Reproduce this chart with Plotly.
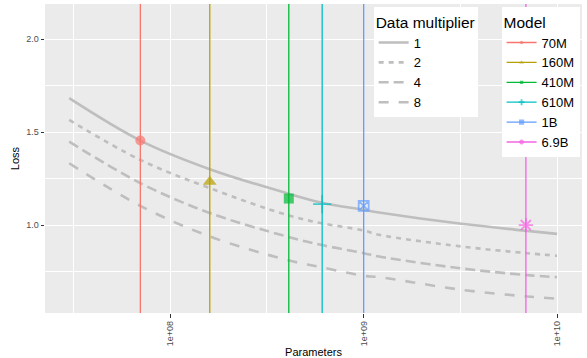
import plotly.graph_objects as go

# ---- data ----
params = [3e7, 7e7, 1.6e8, 4e8, 6e8, 1e9, 1.2e9, 3.2e9, 7e9, 1e10]
multipliers = ["1", "2", "4", "8"]
loss_1 = [1.683, 1.455, 1.301, 1.172, 1.122, 1.082, 1.068, 1.007, 0.969, 0.953]
loss_2 = [1.566, 1.351, 1.199, 1.055, 1.011, 0.971, 0.948, 0.885, 0.849, 0.835]
loss_4 = [1.449, 1.226, 1.065, 0.939, 0.894, 0.849, 0.831, 0.767, 0.731, 0.720]
loss_8 = [1.333, 1.104, 0.939, 0.813, 0.774, 0.727, 0.720, 0.652, 0.616, 0.604]

models = ["70M", "160M", "410M", "610M", "1B", "6.9B"]
model_params = [7.0e7, 1.6e8, 4.1e8, 6.1e8, 1.0e9, 6.9e9]
model_loss = [1.455, 1.234, 1.143, 1.113, 1.104, 1.000]

x_ticks = [1e8, 1e9, 1e10]
x_tick_labels = ["1e+08", "1e+09", "1e+10"]
y_ticks = [1.0, 1.5, 2.0]
y_tick_labels = ["1.0", "1.5", "2.0"]

# ---- styles ----
curve_dash = ["solid", "5px,5px", "10px,5px", "10px,10px"]
model_colors = ["#F8766D", "#B79F00", "#00BA38", "#00BFC4", "#619CFF", "#F564E3"]
model_symbols = ["circle", "triangle-up", "square", "cross-thin", "square-x-open", "asterisk-open"]
model_sizes = [10, 12, 10, 13, 10, 12]
Y_RANGE = [0.527, 2.19]
LOGX_RANGE = [7.352, 10.129]
FONT = "Liberation Sans, Arial, Helvetica, sans-serif"

fig = go.Figure()

for name, ys, dash in zip(multipliers, [loss_1, loss_2, loss_4, loss_8], curve_dash):
    fig.add_trace(go.Scatter(
        x=params, y=ys, mode="lines", name=name,
        line=dict(color="rgb(190,190,190)", width=2.6, dash=dash, shape="spline"),
        legend="legend",
    ))

for name, xp, yl, col, sym, sz in zip(models, model_params, model_loss,
                                      model_colors, model_symbols, model_sizes):
    open_like = sym in ("cross-thin", "square-x-open", "asterisk-open")
    fig.add_trace(go.Scatter(
        x=[xp, xp, xp], y=[Y_RANGE[0] - 1, yl, Y_RANGE[1] + 1],
        mode="lines+markers", name=name,
        line=dict(color=col, width=1.3),
        marker=dict(symbol=sym, size=[0, sz, 0], color=col,
                    line=dict(color=col, width=1.8 if open_like else 0)),
        legend="legend2",
    ))

fig.update_layout(
    width=587, height=358,
    margin=dict(l=45, r=5, t=4, b=45, autoexpand=False),
    paper_bgcolor="white", plot_bgcolor="#EBEBEB",
    font=dict(family=FONT, color="black"),
    xaxis=dict(
        type="log", range=LOGX_RANGE,
        tickvals=x_ticks, ticktext=x_tick_labels, tickangle=-90,
        tickfont=dict(size=9, color="#4D4D4D"),
        ticks="outside", ticklen=3.5, tickcolor="#333333", tickwidth=1,
        showgrid=True, gridcolor="white", gridwidth=1.2,
        minor=dict(tickvals=[10**7.5, 10**8.5, 10**9.5], showgrid=True,
                   gridcolor="white", gridwidth=0.6, ticks=""),
        zeroline=False, showline=False,
        title=dict(text="Parameters", font=dict(size=11), standoff=4),
        automargin=False,
    ),
    yaxis=dict(
        range=Y_RANGE,
        tickvals=y_ticks, ticktext=y_tick_labels,
        tickfont=dict(size=9, color="#4D4D4D"),
        ticks="outside", ticklen=3.5, tickcolor="#333333", tickwidth=1,
        showgrid=True, gridcolor="white", gridwidth=1.2,
        minor=dict(tickvals=[0.75, 1.25, 1.75], showgrid=True,
                   gridcolor="white", gridwidth=0.6, ticks=""),
        zeroline=False, showline=False,
        title=dict(text="Loss", font=dict(size=11), standoff=4),
        automargin=False,
    ),
    legend=dict(
        title=dict(text="Data multiplier", font=dict(size=15.5)),
        font=dict(size=13), bgcolor="white",
        x=0.612, y=0.989, xanchor="left", yanchor="top",
        tracegroupgap=0, itemwidth=30,
    ),
    legend2=dict(
        title=dict(text="Model", font=dict(size=15.5)),
        font=dict(size=13), bgcolor="white",
        x=0.9955, y=0.989, xanchor="right", yanchor="top",
        tracegroupgap=0, itemwidth=30,
    ),
)

fig.write_html("out.html", config={"displayModeBar": False},
               post_script="document.body.style.margin='0px';")
